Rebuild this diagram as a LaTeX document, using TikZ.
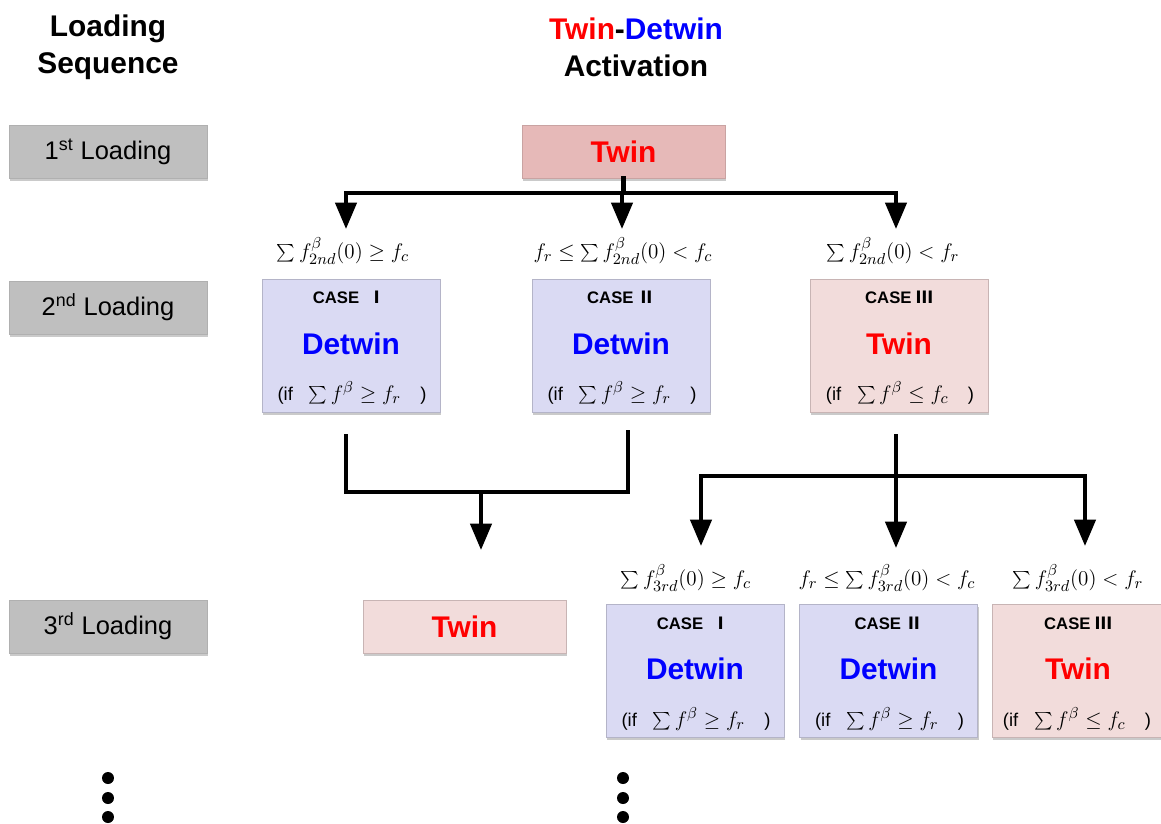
\documentclass[tikz,border=0pt]{standalone}
\usepackage{fontspec}
\setmainfont{Liberation Sans}
\newfontfamily\cjk{Noto Sans CJK KR}
\usetikzlibrary{arrows.meta,shadows}
\definecolor{loadgray}{HTML}{BFBFBF}
\definecolor{loadedge}{HTML}{B0B0B0}
\definecolor{twinfill}{HTML}{E6B9B8}
\definecolor{twinedge}{HTML}{C9A3A2}
\definecolor{pinkfill}{HTML}{F2DCDB}
\definecolor{pinkedge}{HTML}{C8B4B4}
\definecolor{lavfill}{HTML}{DADAF3}
\definecolor{lavedge}{HTML}{B4B4C8}
\definecolor{tred}{HTML}{FF0000}
\definecolor{dblue}{HTML}{0000FF}
\newcommand\condline[1]{{\fontsize{10.5}{12}\selectfont(if}\hspace{9pt}{\fontsize{13}{15}\selectfont$#1$}\hspace{11pt}{\fontsize{10.5}{12}\selectfont)}}
\begin{document}
\begin{tikzpicture}[x=0.02cm,y=-0.02cm,
  shad/.style={drop shadow={shadow xshift=0.6pt,shadow yshift=-1.6pt,opacity=0.35,fill=black!60}},
  header/.style={font=\fontsize{17}{21}\selectfont\bfseries,align=center},
  loadbox/.style={shad,fill=loadgray,draw=loadedge,line width=0.4pt,minimum width=3.96cm,minimum height=1.06cm,font=\fontsize{14.5}{17}\selectfont},
  twinbig/.style={shad,fill=twinfill,draw=twinedge,line width=0.4pt,minimum width=4.06cm,minimum height=1.06cm,font=\fontsize{17}{20}\selectfont\bfseries,text=tred},
  twinsmall/.style={shad,fill=pinkfill,draw=pinkedge,line width=0.4pt,minimum width=4.06cm,minimum height=1.06cm,font=\fontsize{17}{20}\selectfont\bfseries,text=tred},
  lavcase/.style={shad,fill=lavfill,draw=lavedge,line width=0.4pt,minimum width=3.56cm,minimum height=2.66cm},
  pinkcase/.style={shad,fill=pinkfill,draw=pinkedge,line width=0.4pt,minimum width=3.56cm,minimum height=2.66cm},
  casetitle/.style={font=\fontsize{9.5}{11}\selectfont\bfseries,inner sep=0pt},
  casebig/.style={font=\fontsize{17}{20}\selectfont\bfseries,inner sep=0pt},
  caseif/.style={inner sep=0pt},
  formula/.style={font=\fontsize{13}{15}\selectfont,inner sep=0pt},
  conn/.style={line width=2.3pt,line cap=rect},
  arr/.style={line width=2.3pt,-{Triangle[length=15pt,width=12pt]}},
  dotstyle/.style={fill=black,circle,inner sep=0pt,minimum size=0.24cm}
]
\useasboundingbox (0,0) rectangle (1161,823);

% headers
\node[header] (hl) at (108,47) {Loading\\Sequence};
\node[header] (hr) at (636,47) {\textcolor{tred}{Twin}-\textcolor{dblue}{Detwin}\\Activation};

% loading boxes
\node[loadbox] (l1) at (108,151.5) {1\textsuperscript{st} Loading};
\node[loadbox] (l2) at (108,307.5) {2\textsuperscript{nd} Loading};
\node[loadbox] (l3) at (108,626.5) {3\textsuperscript{rd} Loading};

% top twin
\node[twinbig] (tw) at (623.5,151.5) {Twin};

% top connectors
\coordinate (jm) at (623.5,193);
\coordinate (jl) at (346,193);
\coordinate (jr) at (896,193);
\coordinate (jc) at (622,193);
\coordinate (t1) at (346,229);
\coordinate (t2) at (622,229);
\coordinate (t3) at (896,229);
\draw[conn] (tw.south) -- (jm);
\draw[conn] (jl) -- (jr);
\draw[arr] (jl) -- (t1);
\draw[arr] (jc) -- (t2);
\draw[arr] (jr) -- (t3);

% 2nd formulas
\node[formula] (f21) at (343,251) {$\sum f^{\beta}_{2nd}(0)\geq f_c$};
\node[formula] (f22) at (623,251) {$f_r\leq\sum f^{\beta}_{2nd}(0)< f_c$};
\node[formula] (f23) at (893,251) {$\sum f^{\beta}_{2nd}(0)< f_r$};

% 2nd case boxes
\node[lavcase] (c21) at (351,345.5) {};
\node[lavcase] (c22) at (621,345.5) {};
\node[pinkcase] (c23) at (899,345.5) {};

\node[casetitle] (c21t) at (349,297) {CASE\ \ {\cjk\bfseries Ⅰ}};
\node[casebig,text=dblue] (c21b) at (351,344) {Detwin};
\node[caseif] (c21i) at (352,393) {\condline{\sum f^{\beta}\geq f_r}};

\node[casetitle] (c22t) at (621,297) {CASE\ {\cjk\bfseries Ⅱ}};
\node[casebig,text=dblue] (c22b) at (621,344) {Detwin};
\node[caseif] (c22i) at (622,393) {\condline{\sum f^{\beta}\geq f_r}};

\node[casetitle] (c23t) at (899,297) {CASE\ {\cjk\bfseries Ⅲ}};
\node[casebig,text=tred] (c23b) at (899,344) {Twin};
\node[caseif] (c23i) at (900,393) {\condline{\sum f^{\beta}\leq f_c}};

% lower-left connector
\coordinate (ll1) at (346,436);
\coordinate (ll2) at (346,492);
\coordinate (ll3) at (628,492);
\coordinate (ll4) at (628,432);
\coordinate (lm) at (481,492);
\coordinate (lt) at (481,550);
\draw[conn] (ll1) -- (ll2) -- (ll3) -- (ll4);
\draw[arr] (lm) -- (lt);

% lower-right connector
\coordinate (rs) at (896,434);
\coordinate (rt2) at (896,548);
\coordinate (rl) at (701,476);
\coordinate (rr) at (1085,476);
\coordinate (rt1) at (701,546);
\coordinate (rt3) at (1085,546);
\draw[conn] (rl) -- (rr);
\draw[arr] (rs) -- (rt2);
\draw[arr] (rl) -- (rt1);
\draw[arr] (rr) -- (rt3);

% 3rd twin
\node[twinsmall] (tw3) at (464.5,626.5) {Twin};

% 3rd formulas
\node[formula] (f31) at (686,578) {$\sum f^{\beta}_{3rd}(0)\geq f_c$};
\node[formula] (f32) at (887,578) {$f_r\leq\sum f^{\beta}_{3rd}(0)< f_c$};
\node[formula] (f33) at (1078,578) {$\sum f^{\beta}_{3rd}(0)< f_r$};

% 3rd case boxes
\node[lavcase] (c31) at (695,671) {};
\node[lavcase] (c32) at (888.5,671) {};
\node[pinkcase] (c33) at (1081,671) {};

\node[casetitle] (c31t) at (693,623) {CASE\ \ {\cjk\bfseries Ⅰ}};
\node[casebig,text=dblue] (c31b) at (695,669) {Detwin};
\node[caseif] (c31i) at (696,719) {\condline{\sum f^{\beta}\geq f_r}};

\node[casetitle] (c32t) at (888.5,623) {CASE\ {\cjk\bfseries Ⅱ}};
\node[casebig,text=dblue] (c32b) at (888.5,669) {Detwin};
\node[caseif] (c32i) at (889.5,719) {\condline{\sum f^{\beta}\geq f_r}};

\node[casetitle] (c33t) at (1078,623) {CASE\ {\cjk\bfseries Ⅲ}};
\node[casebig,text=tred] (c33b) at (1078,669) {Twin};
\node[caseif] (c33i) at (1077,719) {\condline{\sum f^{\beta}\leq f_c}};

% dots
\node[dotstyle] (d1) at (108,778) {};
\node[dotstyle] (d2) at (108,798) {};
\node[dotstyle] (d3) at (108,817) {};
\node[dotstyle] (d4) at (623,778) {};
\node[dotstyle] (d5) at (623,798) {};
\node[dotstyle] (d6) at (623,817) {};
\end{tikzpicture}
\end{document}
